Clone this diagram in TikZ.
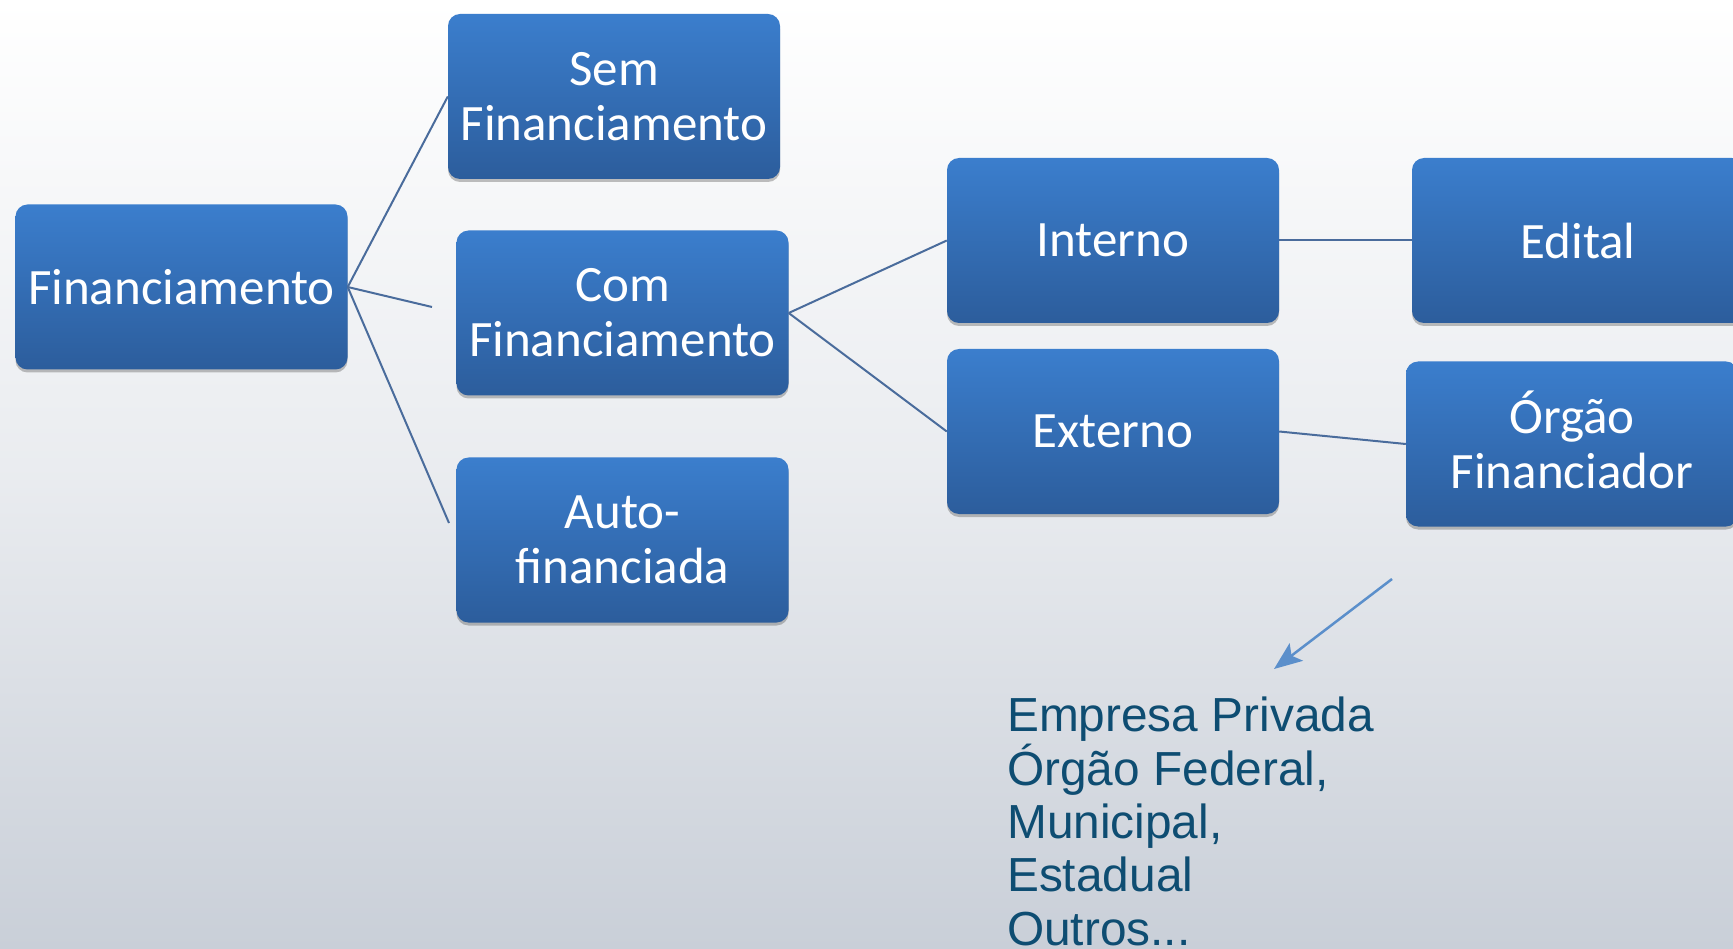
\documentclass[tikz,border=0pt]{standalone}
\usepackage{fontspec}
\setmainfont{Carlito}
\newfontfamily\arialfont{Liberation Sans}
\usetikzlibrary{shadows,arrows.meta}
\definecolor{boxtop}{HTML}{3B7ECD}
\definecolor{boxbot}{HTML}{2C5D9C}
\definecolor{linecol}{HTML}{4A6C9C}
\definecolor{arrowcol}{HTML}{5B8FCB}
\definecolor{txtcol}{HTML}{0E4D72}
\definecolor{bgbot}{HTML}{C9CFD8}
\tikzset{
  box/.style={rectangle, rounded corners=12pt, minimum width=332pt, minimum height=165pt,
    top color=boxtop, bottom color=boxbot, draw=none, text=white, align=center,
    font=\fontsize{51}{55}\selectfont,
    drop shadow={shadow xshift=0pt, shadow yshift=-3pt, opacity=0.35, fill=black!70}},
  conn/.style={draw=linecol, line width=2pt},
  arr/.style={draw=arrowcol, line width=2.5pt, -{Stealth[length=28pt,width=22pt,inset=6pt]}}
}
\begin{document}
\begin{tikzpicture}[x=1pt,y=-1pt]
\useasboundingbox (0,0) rectangle (1733,949);
\shade[top color=white, bottom color=bgbot, middle color=white!60!bgbot] (0,0) rectangle (1733,949);
\node[box] (fin) at (181.5,287) {Financiamento};
\node[box] (sem) at (614,96.5) {Sem\\Financiamento};
\node[box] (com) at (622.5,313) {Com\\Financiamento};
\node[box] (aut) at (622.5,540) {Auto-\\financiada};
\node[box] (int) at (1113,240.5) {Interno};
\node[box] (ext) at (1113,431.5) {Externo};
\node[box] (edi) at (1578,240.5) {Edital};
\node[box] (org) at (1572,444) {\raisebox{0pt}[34pt][0pt]{Órgão}\\Financiador};
\coordinate (c1) at (432,307);
\coordinate (c2) at (449,523);
\coordinate (a1) at (1392,579);
\coordinate (a2) at (1274,669);
\draw[conn] (fin.east) -- (sem.west);
\draw[conn] (fin.east) -- (c1);
\draw[conn] (fin.east) -- (c2);
\draw[conn] (com.east) -- (int.west);
\draw[conn] (com.east) -- (ext.west);
\draw[conn] (int.east) -- (edi.west);
\draw[conn] (ext.east) -- (org.west);
\draw[arr] (a1) -- (a2);
\node[anchor=base west, align=left, text=txtcol, font=\arialfont\fontsize{47.8}{53.3}\selectfont, inner sep=0pt] (lst) at (1007,945)
  {Empresa Privada\\Órgão Federal,\\Municipal,\\Estadual\\Outros...};
\end{tikzpicture}
\end{document}
